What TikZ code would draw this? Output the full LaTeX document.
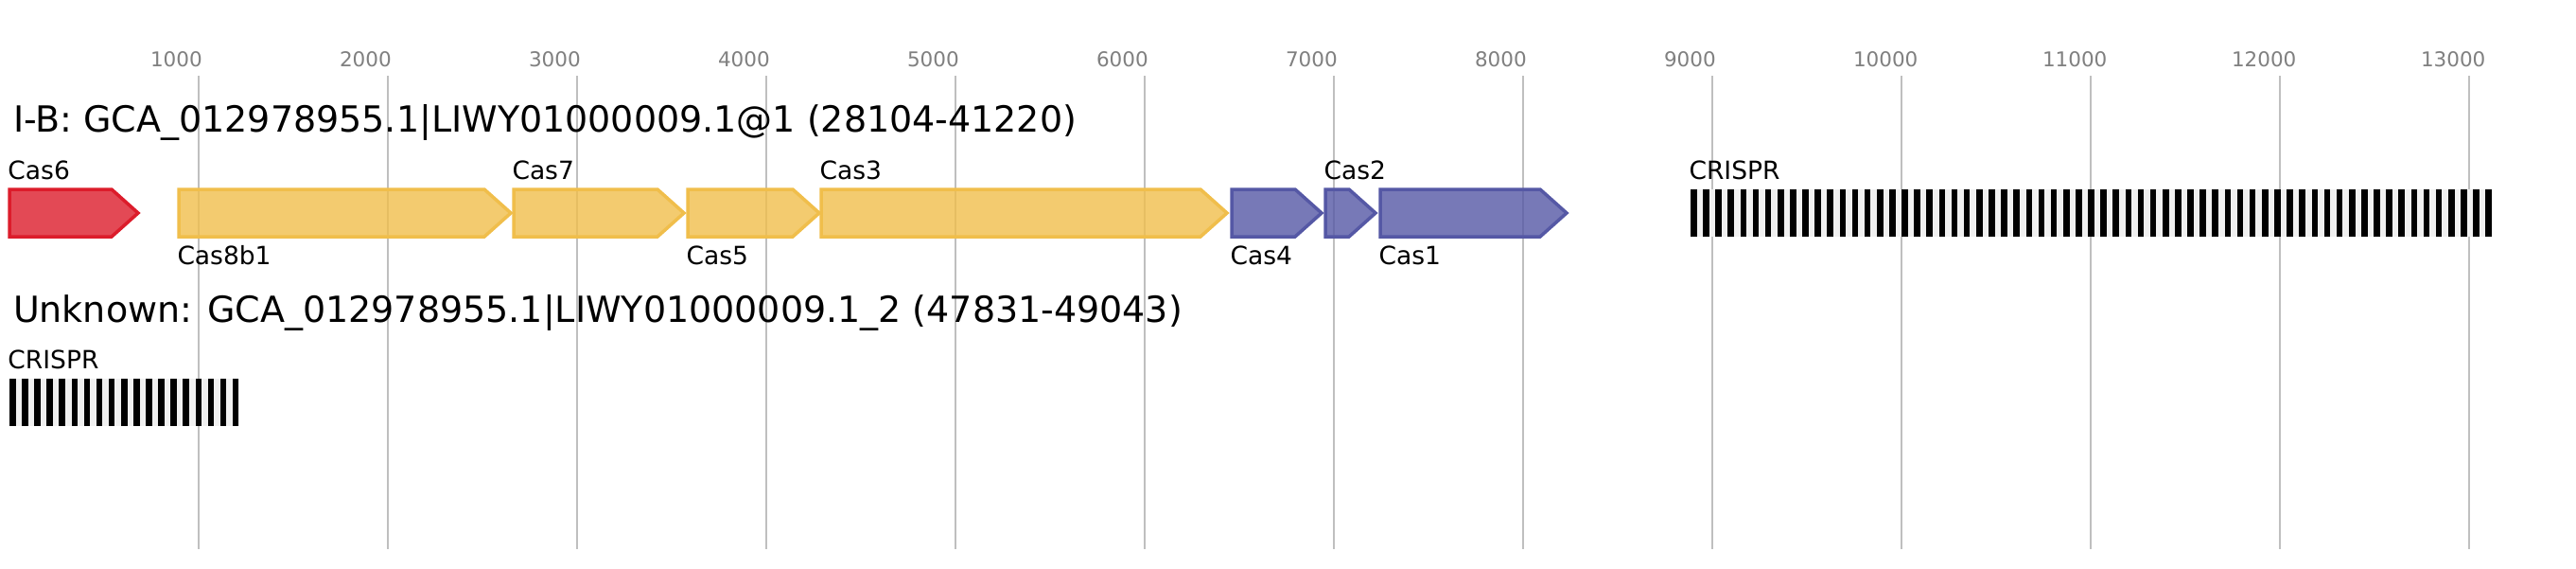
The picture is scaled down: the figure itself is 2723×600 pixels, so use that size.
\documentclass[tikz,border=0pt]{standalone}
\usepackage{fontspec}
\setmainfont{DejaVu Sans}

\definecolor{casred}{HTML}{DC1C2B}
\definecolor{casyellow}{HTML}{F0BE4B}
\definecolor{casblue}{HTML}{5558A5}
\definecolor{gridgray}{HTML}{BFBFBF}
\definecolor{tickgray}{HTML}{808080}
\definecolor{repeatgray}{HTML}{F0F0F0}

% gene arrow: style, start, end (in px)
\newcommand{\genearrow}[3]{%
  \draw[#1] (#2,200) -- ({#3-28},200) -- (#3,225) -- ({#3-28},250) -- (#2,250) -- cycle;}

\begin{document}
\begin{tikzpicture}[x=1pt, y=-1pt,
    every node/.style={inner sep=0pt, outer sep=0pt, anchor=base west},
    gridline/.style={draw=gridgray, line width=2pt},
    ticklabel/.style={text=tickgray, font=\fontsize{21.5}{26}\selectfont},
    title/.style={font=\fontsize{38}{46}\selectfont},
    genelabel/.style={font=\fontsize{26.5}{32}\selectfont},
    gene/.style={line width=3.5pt, line join=miter, fill opacity=0.8},
    redgene/.style={gene, draw=casred, fill=casred},
    yellowgene/.style={gene, draw=casyellow, fill=casyellow},
    bluegene/.style={gene, draw=casblue, fill=casblue}]
    \useasboundingbox[fill=white] (0,0) rectangle (2723,600);

    % scale
    \foreach \k in {1,...,13} {
        \pgfmathtruncatemacro{\bp}{1000*\k}
        \draw[gridline] ({10+200*\k},80) -- ({10+200*\k},580);
        \node[ticklabel] (tick\k) at ({10+200*\k-51},70) {\bp};
    }

    % I-B locus
    \node[title] (title1) at (14,139) {I-B: GCA\_012978955.1|LIWY01000009.1@1 (28104-41220)};
    \genearrow{redgene}{10}{146}
    \genearrow{yellowgene}{189}{540}
    \genearrow{yellowgene}{543}{723}
    \genearrow{yellowgene}{727}{866}
    \genearrow{yellowgene}{868}{1297}
    \genearrow{bluegene}{1302}{1397}
    \genearrow{bluegene}{1401}{1454}
    \genearrow{bluegene}{1459}{1656}
    \node[genelabel] (cas6) at (8.5,189) {Cas6};
    \node[genelabel] (cas8b1) at (187.5,279) {Cas8b1};
    \node[genelabel] (cas7) at (541.5,189) {Cas7};
    \node[genelabel] (cas5) at (725.5,279) {Cas5};
    \node[genelabel] (cas3) at (866.5,189) {Cas3};
    \node[genelabel] (cas4) at (1300.5,279) {Cas4};
    \node[genelabel] (cas2) at (1399.5,189) {Cas2};
    \node[genelabel] (cas1) at (1457.5,279) {Cas1};
    \fill[repeatgray] (1787,200) rectangle (2634,250);
    \foreach \i in {0,...,64}
        \fill ({1787+13.13*\i},200) rectangle +(6.6,50);
    \node[genelabel] (crispr1) at (1785.5,189) {CRISPR};

    % unknown locus
    \node[title] (title2) at (14,340) {Unknown: GCA\_012978955.1|LIWY01000009.1\_2 (47831-49043)};
    \fill[repeatgray] (10,400) rectangle (253,450);
    \foreach \i in {0,...,18}
        \fill ({10+13.1*\i},400) rectangle +(6.6,50);
    \node[genelabel] (crispr2) at (8.5,389) {CRISPR};
\end{tikzpicture}
\end{document}
